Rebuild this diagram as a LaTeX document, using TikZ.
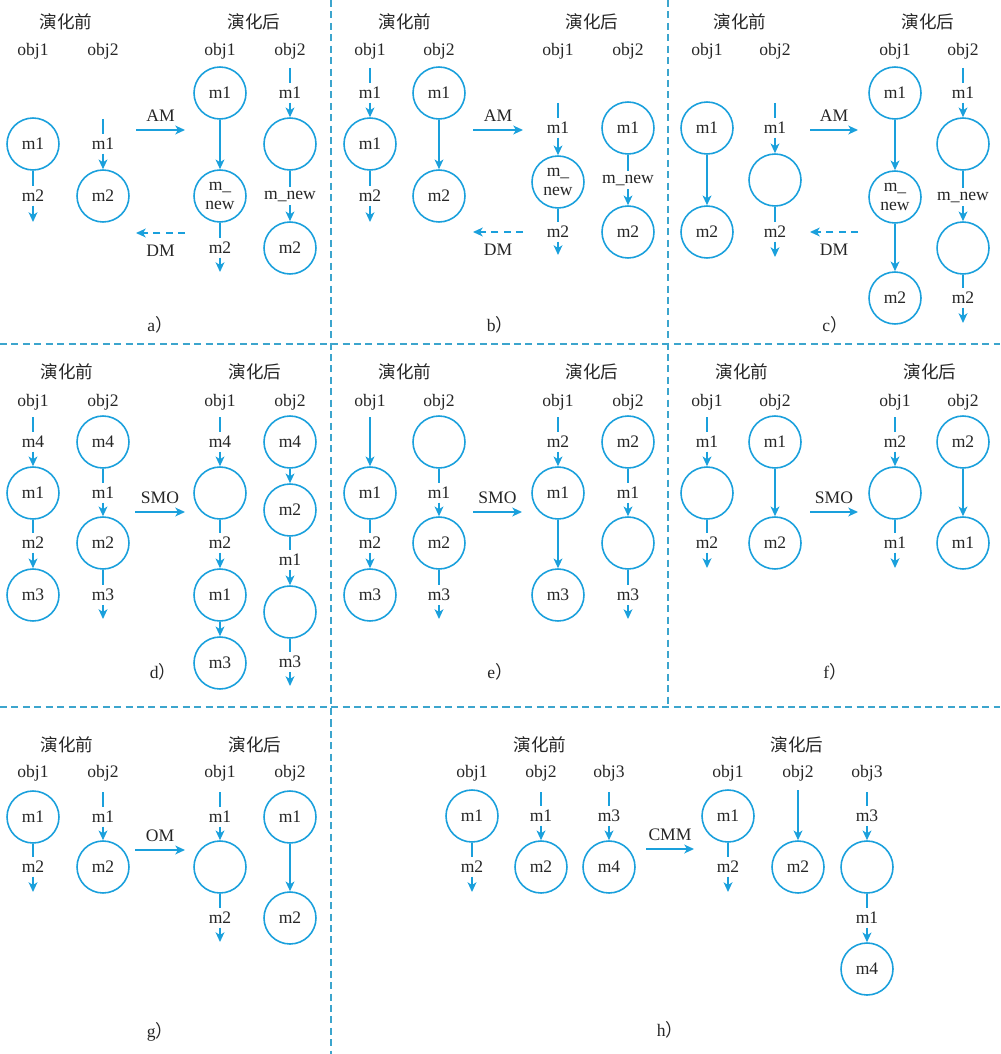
\documentclass[tikz,border=0pt]{standalone}
\usepackage{fontspec}
\setmainfont{Liberation Serif}
\newfontfamily\cjk{Noto Sans CJK SC}
\usetikzlibrary{arrows.meta}
\definecolor{lc}{RGB}{26,160,220}
\definecolor{sc}{RGB}{60,165,205}

\begin{document}
\begin{tikzpicture}[x=0.02cm, y=-0.02cm,
  font=\fontsize{10}{11}\selectfont, text=black!85,
  mc/.style={circle, draw=lc, line width=0.9pt, minimum size=1.04cm, inner sep=0pt, align=center},
  ml/.style={inner sep=2pt},
  ln/.style={draw=lc, line width=0.9pt},
  ar/.style={ln, -{Stealth[length=5.5pt, width=5pt, inset=1.5pt]}},
  dm/.style={ar, dash pattern=on 4pt off 3pt},
  sep/.style={draw=sc, line width=0.7pt, dash pattern=on 4pt off 2.5pt}]

  \useasboundingbox (0,0) rectangle (1000,1054);

  \draw[sep] (0,344) -- (1000,344);
  \draw[sep] (0,707) -- (1000,707);
  \draw[sep] (331,0) -- (331,1054);
  \draw[sep] (668,0) -- (668,707);

  % a)
  \node (aH1) at (66,22) {\cjk 演化前};
  \node (aH2) at (254,22) {\cjk 演化后};
  \node (aO1) at (33,51) {obj1};
  \node (aO2) at (103,51) {obj2};
  \node (aO3) at (220,51) {obj1};
  \node (aO4) at (290,51) {obj2};
  \node[mc] (a11) at (33,144) {m1};
  \node[ml] (a12) at (33,196) {m2};
  \coordinate (a13) at (33,222);
  \draw[ln] (a11) -- (a12);
  \draw[ar] (a12) -- (a13);
  \coordinate (a21) at (103,119);
  \node[ml] (a22) at (103,144) {m1};
  \node[mc] (a23) at (103,196) {m2};
  \draw[ln] (a21) -- (a22);
  \draw[ar] (a22) -- (a23);
  \coordinate (aA1) at (136,130);
  \coordinate (aA2) at (185,130);
  \draw[ar] (aA1) -- node[above=1pt] (aAM) {AM} (aA2);
  \coordinate (aD1) at (185,233);
  \coordinate (aD2) at (136,233);
  \draw[dm] (aD1) -- node[below=3pt] (aDM) {DM} (aD2);
  \node[mc] (a31) at (220,93) {m1};
  \node[mc] (a32) at (220,196) {m\_\\new};
  \node[ml] (a33) at (220,248) {m2};
  \coordinate (a34) at (220,272);
  \draw[ar] (a31) -- (a32);
  \draw[ln] (a32) -- (a33);
  \draw[ar] (a33) -- (a34);
  \coordinate (a41) at (290,68);
  \node[ml] (a42) at (290,93) {m1};
  \node[mc] (a43) at (290,144) {};
  \node[ml] (a44) at (290,196) {m\_new};
  \node[mc] (a45) at (290,248) {m2};
  \draw[ln] (a41) -- (a42);
  \draw[ar] (a42) -- (a43);
  \draw[ln] (a43) -- (a44);
  \draw[ar] (a44) -- (a45);
  \node (aC) at (160,325) {a{\cjk ）}};

  % b)
  \node (bH1) at (405,22) {\cjk 演化前};
  \node (bH2) at (592,22) {\cjk 演化后};
  \node (bO1) at (370,51) {obj1};
  \node (bO2) at (439,51) {obj2};
  \node (bO3) at (558,51) {obj1};
  \node (bO4) at (628,51) {obj2};
  \coordinate (b11) at (370,68);
  \node[ml] (b12) at (370,93) {m1};
  \node[mc] (b13) at (370,144) {m1};
  \node[ml] (b14) at (370,196) {m2};
  \coordinate (b15) at (370,222);
  \draw[ln] (b11) -- (b12);
  \draw[ar] (b12) -- (b13);
  \draw[ln] (b13) -- (b14);
  \draw[ar] (b14) -- (b15);
  \node[mc] (b21) at (439,93) {m1};
  \node[mc] (b22) at (439,196) {m2};
  \draw[ar] (b21) -- (b22);
  \coordinate (bA1) at (473,130);
  \coordinate (bA2) at (523,130);
  \draw[ar] (bA1) -- node[above=1pt] (bAM) {AM} (bA2);
  \coordinate (bD1) at (523,232);
  \coordinate (bD2) at (473,232);
  \draw[dm] (bD1) -- node[below=3pt] (bDM) {DM} (bD2);
  \coordinate (b31) at (558,103);
  \node[ml] (b32) at (558,128) {m1};
  \node[mc] (b33) at (558,182) {m\_\\new};
  \node[ml] (b34) at (558,232) {m2};
  \coordinate (b35) at (558,255);
  \draw[ln] (b31) -- (b32);
  \draw[ar] (b32) -- (b33);
  \draw[ln] (b33) -- (b34);
  \draw[ar] (b34) -- (b35);
  \node[mc] (b41) at (628,128) {m1};
  \node[ml] (b42) at (628,180) {m\_new};
  \node[mc] (b43) at (628,232) {m2};
  \draw[ln] (b41) -- (b42);
  \draw[ar] (b42) -- (b43);
  \node (bC) at (500,325) {b{\cjk ）}};

  % c)
  \node (cH1) at (740,22) {\cjk 演化前};
  \node (cH2) at (928,22) {\cjk 演化后};
  \node (cO1) at (707,51) {obj1};
  \node (cO2) at (775,51) {obj2};
  \node (cO3) at (895,51) {obj1};
  \node (cO4) at (963,51) {obj2};
  \node[mc] (c11) at (707,128) {m1};
  \node[mc] (c12) at (707,232) {m2};
  \draw[ar] (c11) -- (c12);
  \coordinate (c21) at (775,103);
  \node[ml] (c22) at (775,128) {m1};
  \node[mc] (c23) at (775,180) {};
  \node[ml] (c24) at (775,232) {m2};
  \coordinate (c25) at (775,257);
  \draw[ln] (c21) -- (c22);
  \draw[ar] (c22) -- (c23);
  \draw[ln] (c23) -- (c24);
  \draw[ar] (c24) -- (c25);
  \coordinate (cA1) at (810,130);
  \coordinate (cA2) at (858,130);
  \draw[ar] (cA1) -- node[above=1pt] (cAM) {AM} (cA2);
  \coordinate (cD1) at (858,232);
  \coordinate (cD2) at (810,232);
  \draw[dm] (cD1) -- node[below=3pt] (cDM) {DM} (cD2);
  \node[mc] (c31) at (895,93) {m1};
  \node[mc] (c32) at (895,197) {m\_\\new};
  \node[mc] (c33) at (895,298) {m2};
  \draw[ar] (c31) -- (c32);
  \draw[ar] (c32) -- (c33);
  \coordinate (c41) at (963,68);
  \node[ml] (c42) at (963,93) {m1};
  \node[mc] (c43) at (963,144) {};
  \node[ml] (c44) at (963,197) {m\_new};
  \node[mc] (c45) at (963,248) {};
  \node[ml] (c46) at (963,298) {m2};
  \coordinate (c47) at (963,323);
  \draw[ln] (c41) -- (c42);
  \draw[ar] (c42) -- (c43);
  \draw[ln] (c43) -- (c44);
  \draw[ar] (c44) -- (c45);
  \draw[ln] (c45) -- (c46);
  \draw[ar] (c46) -- (c47);
  \node (cC) at (835,325) {c{\cjk ）}};

  % d)
  \node (dH1) at (67,372) {\cjk 演化前};
  \node (dH2) at (255,372) {\cjk 演化后};
  \node (dO1) at (33,402) {obj1};
  \node (dO2) at (103,402) {obj2};
  \node (dO3) at (220,402) {obj1};
  \node (dO4) at (290,402) {obj2};
  \coordinate (d11) at (33,417);
  \node[ml] (d12) at (33,442) {m4};
  \node[mc] (d13) at (33,493) {m1};
  \node[ml] (d14) at (33,543) {m2};
  \node[mc] (d15) at (33,595) {m3};
  \draw[ln] (d11) -- (d12);
  \draw[ar] (d12) -- (d13);
  \draw[ln] (d13) -- (d14);
  \draw[ar] (d14) -- (d15);
  \node[mc] (d21) at (103,442) {m4};
  \node[ml] (d22) at (103,493) {m1};
  \node[mc] (d23) at (103,543) {m2};
  \node[ml] (d24) at (103,595) {m3};
  \coordinate (d25) at (103,619);
  \draw[ln] (d21) -- (d22);
  \draw[ar] (d22) -- (d23);
  \draw[ln] (d23) -- (d24);
  \draw[ar] (d24) -- (d25);
  \coordinate (dA1) at (135,512);
  \coordinate (dA2) at (185,512);
  \draw[ar] (dA1) -- node[above=1pt] (dSMO) {SMO} (dA2);
  \coordinate (d31) at (220,417);
  \node[ml] (d32) at (220,442) {m4};
  \node[mc] (d33) at (220,493) {};
  \node[ml] (d34) at (220,543) {m2};
  \node[mc] (d35) at (220,595) {m1};
  \node[mc] (d36) at (220,663) {m3};
  \draw[ln] (d31) -- (d32);
  \draw[ar] (d32) -- (d33);
  \draw[ln] (d33) -- (d34);
  \draw[ar] (d34) -- (d35);
  \draw[ar] (d35) -- (d36);
  \node[mc] (d41) at (290,442) {m4};
  \node[mc] (d42) at (290,510) {m2};
  \node[ml] (d43) at (290,560) {m1};
  \node[mc] (d44) at (290,612) {};
  \node[ml] (d45) at (290,662) {m3};
  \coordinate (d46) at (290,686);
  \draw[ar] (d41) -- (d42);
  \draw[ln] (d42) -- (d43);
  \draw[ar] (d43) -- (d44);
  \draw[ln] (d44) -- (d45);
  \draw[ar] (d45) -- (d46);
  \node (dC) at (163,672) {d{\cjk ）}};

  % e)
  \node (eH1) at (405,372) {\cjk 演化前};
  \node (eH2) at (592,372) {\cjk 演化后};
  \node (eO1) at (370,402) {obj1};
  \node (eO2) at (439,402) {obj2};
  \node (eO3) at (558,402) {obj1};
  \node (eO4) at (628,402) {obj2};
  \coordinate (e11) at (370,417);
  \node[mc] (e12) at (370,493) {m1};
  \node[ml] (e13) at (370,543) {m2};
  \node[mc] (e14) at (370,595) {m3};
  \draw[ar] (e11) -- (e12);
  \draw[ln] (e12) -- (e13);
  \draw[ar] (e13) -- (e14);
  \node[mc] (e21) at (439,442) {};
  \node[ml] (e22) at (439,493) {m1};
  \node[mc] (e23) at (439,543) {m2};
  \node[ml] (e24) at (439,595) {m3};
  \coordinate (e25) at (439,619);
  \draw[ln] (e21) -- (e22);
  \draw[ar] (e22) -- (e23);
  \draw[ln] (e23) -- (e24);
  \draw[ar] (e24) -- (e25);
  \coordinate (eA1) at (473,512);
  \coordinate (eA2) at (522,512);
  \draw[ar] (eA1) -- node[above=1pt] (eSMO) {SMO} (eA2);
  \coordinate (e31) at (558,417);
  \node[ml] (e32) at (558,442) {m2};
  \node[mc] (e33) at (558,493) {m1};
  \node[mc] (e34) at (558,595) {m3};
  \draw[ln] (e31) -- (e32);
  \draw[ar] (e32) -- (e33);
  \draw[ar] (e33) -- (e34);
  \node[mc] (e41) at (628,442) {m2};
  \node[ml] (e42) at (628,493) {m1};
  \node[mc] (e43) at (628,543) {};
  \node[ml] (e44) at (628,595) {m3};
  \coordinate (e45) at (628,619);
  \draw[ln] (e41) -- (e42);
  \draw[ar] (e42) -- (e43);
  \draw[ln] (e43) -- (e44);
  \draw[ar] (e44) -- (e45);
  \node (eC) at (500,672) {e{\cjk ）}};

  % f)
  \node (fH1) at (742,372) {\cjk 演化前};
  \node (fH2) at (930,372) {\cjk 演化后};
  \node (fO1) at (707,402) {obj1};
  \node (fO2) at (775,402) {obj2};
  \node (fO3) at (895,402) {obj1};
  \node (fO4) at (963,402) {obj2};
  \coordinate (f11) at (707,417);
  \node[ml] (f12) at (707,442) {m1};
  \node[mc] (f13) at (707,493) {};
  \node[ml] (f14) at (707,543) {m2};
  \coordinate (f15) at (707,568);
  \draw[ln] (f11) -- (f12);
  \draw[ar] (f12) -- (f13);
  \draw[ln] (f13) -- (f14);
  \draw[ar] (f14) -- (f15);
  \node[mc] (f21) at (775,442) {m1};
  \node[mc] (f22) at (775,543) {m2};
  \draw[ar] (f21) -- (f22);
  \coordinate (fA1) at (810,512);
  \coordinate (fA2) at (858,512);
  \draw[ar] (fA1) -- node[above=1pt] (fSMO) {SMO} (fA2);
  \coordinate (f31) at (895,417);
  \node[ml] (f32) at (895,442) {m2};
  \node[mc] (f33) at (895,493) {};
  \node[ml] (f34) at (895,543) {m1};
  \coordinate (f35) at (895,568);
  \draw[ln] (f31) -- (f32);
  \draw[ar] (f32) -- (f33);
  \draw[ln] (f33) -- (f34);
  \draw[ar] (f34) -- (f35);
  \node[mc] (f41) at (963,442) {m2};
  \node[mc] (f42) at (963,543) {m1};
  \draw[ar] (f41) -- (f42);
  \node (fC) at (835,672) {f{\cjk ）}};

  % g)
  \node (gH1) at (67,745) {\cjk 演化前};
  \node (gH2) at (255,745) {\cjk 演化后};
  \node (gO1) at (33,773) {obj1};
  \node (gO2) at (103,773) {obj2};
  \node (gO3) at (220,773) {obj1};
  \node (gO4) at (290,773) {obj2};
  \node[mc] (g11) at (33,817) {m1};
  \node[ml] (g12) at (33,867) {m2};
  \coordinate (g13) at (33,892);
  \draw[ln] (g11) -- (g12);
  \draw[ar] (g12) -- (g13);
  \coordinate (g21) at (103,792);
  \node[ml] (g22) at (103,817) {m1};
  \node[mc] (g23) at (103,867) {m2};
  \draw[ln] (g21) -- (g22);
  \draw[ar] (g22) -- (g23);
  \coordinate (gA1) at (135,850);
  \coordinate (gA2) at (185,850);
  \draw[ar] (gA1) -- node[above=1pt] (gOM) {OM} (gA2);
  \coordinate (g31) at (220,792);
  \node[ml] (g32) at (220,817) {m1};
  \node[mc] (g33) at (220,867) {};
  \node[ml] (g34) at (220,918) {m2};
  \coordinate (g35) at (220,942);
  \draw[ln] (g31) -- (g32);
  \draw[ar] (g32) -- (g33);
  \draw[ln] (g33) -- (g34);
  \draw[ar] (g34) -- (g35);
  \node[mc] (g41) at (290,817) {m1};
  \node[mc] (g42) at (290,918) {m2};
  \draw[ar] (g41) -- (g42);
  \node (gC) at (160,1032) {g{\cjk ）}};

  % h)
  \node (hH1) at (540,745) {\cjk 演化前};
  \node (hH2) at (797,745) {\cjk 演化后};
  \node (hO1) at (472,773) {obj1};
  \node (hO2) at (541,773) {obj2};
  \node (hO3) at (609,773) {obj3};
  \node (hO4) at (728,773) {obj1};
  \node (hO5) at (798,773) {obj2};
  \node (hO6) at (867,773) {obj3};
  \node[mc] (h11) at (472,816) {m1};
  \node[ml] (h12) at (472,867) {m2};
  \coordinate (h13) at (472,892);
  \draw[ln] (h11) -- (h12);
  \draw[ar] (h12) -- (h13);
  \coordinate (h21) at (541,792);
  \node[ml] (h22) at (541,816) {m1};
  \node[mc] (h23) at (541,867) {m2};
  \draw[ln] (h21) -- (h22);
  \draw[ar] (h22) -- (h23);
  \coordinate (h31) at (609,792);
  \node[ml] (h32) at (609,816) {m3};
  \node[mc] (h33) at (609,867) {m4};
  \draw[ln] (h31) -- (h32);
  \draw[ar] (h32) -- (h33);
  \coordinate (hA1) at (646,849);
  \coordinate (hA2) at (694,849);
  \draw[ar] (hA1) -- node[above=1pt] (hCMM) {CMM} (hA2);
  \node[mc] (h41) at (728,816) {m1};
  \node[ml] (h42) at (728,867) {m2};
  \coordinate (h43) at (728,892);
  \draw[ln] (h41) -- (h42);
  \draw[ar] (h42) -- (h43);
  \coordinate (h51) at (798,790);
  \node[mc] (h52) at (798,867) {m2};
  \draw[ar] (h51) -- (h52);
  \coordinate (h61) at (867,792);
  \node[ml] (h62) at (867,816) {m3};
  \node[mc] (h63) at (867,867) {};
  \node[ml] (h64) at (867,918) {m1};
  \node[mc] (h65) at (867,969) {m4};
  \draw[ln] (h61) -- (h62);
  \draw[ar] (h62) -- (h63);
  \draw[ln] (h63) -- (h64);
  \draw[ar] (h64) -- (h65);
  \node (hC) at (670,1030) {h{\cjk ）}};
\end{tikzpicture}
\end{document}
